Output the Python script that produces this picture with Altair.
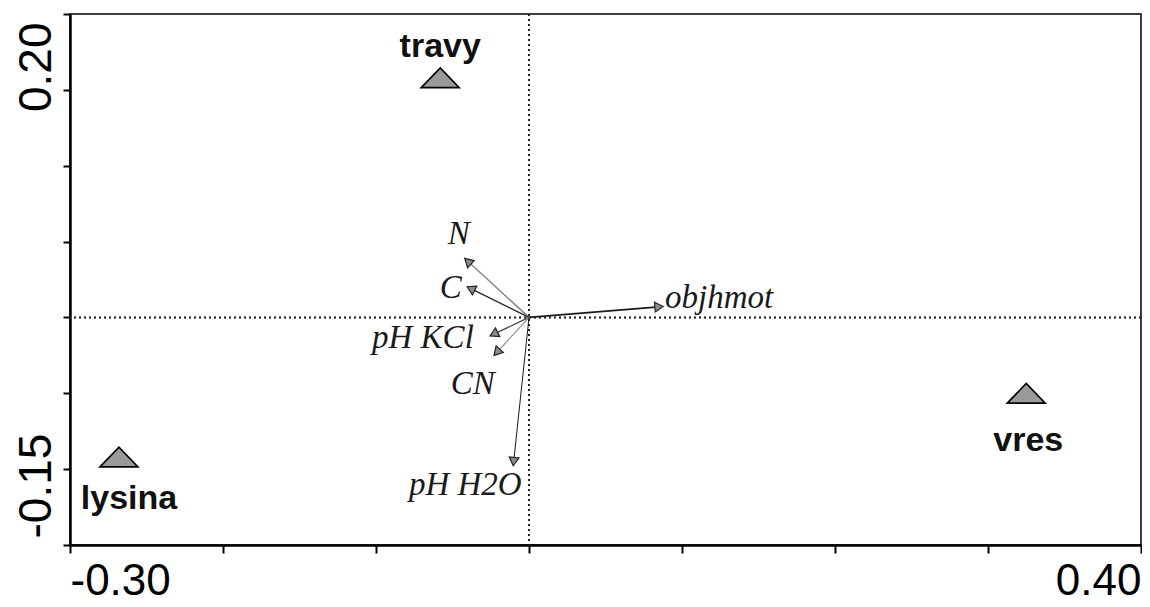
import altair as alt
import pandas as pd

# ---- data (CCA-style biplot) ----
sample_names = ["travy", "lysina", "vres"]
sample_x = [-0.058, -0.268, 0.325]
sample_y = [0.158, -0.092, -0.050]

env_names = ["objhmot", "N", "C", "pH KCl", "CN", "pH H2O"]
env_x = [0.085, -0.040, -0.038, -0.023, -0.021, -0.010]
env_y = [0.007, 0.037, 0.019, -0.011, -0.023, -0.095]

x_ticks = [-0.3, -0.2, -0.1, 0.0, 0.1, 0.2, 0.3, 0.4]
y_ticks = [-0.15, -0.10, -0.05, 0.0, 0.05, 0.10, 0.15, 0.20]
x_tick_labels = ["-0.30", "0.40"]
y_tick_labels = ["0.20", "-0.15"]

samples = pd.DataFrame({"name": sample_names, "x": sample_x, "y": sample_y})
env = pd.DataFrame({"name": env_names, "x": env_x, "y": env_y})
env["x0"] = 0.0
env["y0"] = 0.0

xscale = alt.Scale(domain=[x_ticks[0], x_ticks[-1]], nice=False, zero=False)
yscale = alt.Scale(domain=[y_ticks[0], y_ticks[-1]], nice=False, zero=False)

x_label_expr = (
    f"abs(datum.value - ({x_ticks[0]})) < 1e-6 ? '{x_tick_labels[0]}' : "
    f"abs(datum.value - ({x_ticks[-1]})) < 1e-6 ? '{x_tick_labels[1]}' : ''"
)
y_label_expr = (
    f"abs(datum.value - ({y_ticks[-1]})) < 1e-6 ? '{y_tick_labels[0]}' : "
    f"abs(datum.value - ({y_ticks[0]})) < 1e-6 ? '{y_tick_labels[1]}' : ''"
)

xaxis = alt.Axis(
    values=x_ticks, labelExpr=x_label_expr, labelFlush=True, labelOverlap=False,
    labelFont="Liberation Sans", labelFontSize=44, labelColor="black",
    labelPadding=6, tickColor="black", tickWidth=2, tickSize=8,
    domainColor="black", domainWidth=2.5, grid=False, title=None,
)
yaxis = alt.Axis(
    values=y_ticks, labelExpr=y_label_expr, labelOverlap=False,
    labelAngle=270,
    labelAlign={"condition": {"test": "datum.value > 0", "value": "right"}, "value": "left"},
    labelBaseline="alphabetic",
    labelOffset={"condition": {"test": "datum.value > 0", "value": 8}, "value": -7},
    labelFont="Liberation Sans", labelFontSize=46, labelColor="black",
    labelPadding=13, tickColor="black", tickWidth=2, tickSize=7,
    domainColor="black", domainWidth=2.5, grid=False, title=None,
)


def X(field):
    return alt.X(f"{field}:Q", scale=xscale, axis=xaxis)


def Y(field):
    return alt.Y(f"{field}:Q", scale=yscale, axis=yaxis)


# dotted zero lines
zero_v = alt.Chart(samples).mark_rule(
    strokeDash=[2, 3], color="#222", strokeWidth=1.5
).encode(x=alt.X(datum=0.0, type="quantitative", scale=xscale, axis=xaxis))
zero_h = alt.Chart(samples).mark_rule(
    strokeDash=[2, 3], color="#222", strokeWidth=1.5
).encode(y=alt.Y(datum=0.0, type="quantitative", scale=yscale, axis=yaxis))

# arrows
arrow_lines = alt.Chart(env).mark_rule().encode(
    x=X("x0"), y=Y("y0"), x2=alt.X2("x"), y2=alt.Y2("y"),
    color=alt.Color(
        "name:N", legend=None,
        scale=alt.Scale(domain=env_names,
                        range=["#1a1a1a", "#8a8a8a", "#2a2a2a", "#444444", "#8a8a8a", "#1a1a1a"]),
    ),
    strokeWidth=alt.StrokeWidth(
        "name:N", legend=None,
        scale=alt.Scale(domain=env_names, range=[1.7, 1.0, 1.4, 1.2, 1.0, 1.7]),
    ),
)

arrow_heads = alt.Chart(env).transform_calculate(
    ang="(atan2(datum.x, datum.y) * 180 / PI + 360) % 360"
).mark_point(
    shape="triangle-up", filled=True, size=95, fill="#8c8c8c",
    stroke="#222", strokeWidth=1.2, opacity=1,
).encode(x=X("x"), y=Y("y"), angle=alt.Angle("ang:Q", scale=None))

# env variable labels (italic serif)
env_label_place = {
    "objhmot": ("left", 6, 1),
    "N": ("center", -9, -17),
    "C": ("right", -9, 9),
    "pH KCl": ("right", -20, 14),
    "CN": ("right", -2, 42),
    "pH H2O": ("right", 8, 33),
}
env_labels = []
for nm, (al, ddx, ddy) in env_label_place.items():
    env_labels.append(
        alt.Chart(env).transform_filter(alt.datum.name == nm).mark_text(
            align=al, baseline="alphabetic", dx=ddx, dy=ddy,
            font="Liberation Serif", fontStyle="italic", fontSize=33, color="#1a1a1a",
        ).encode(x=X("x"), y=Y("y"), text="name:N")
    )

# sample triangles
tri = alt.Chart(samples).mark_point(
    shape="M-1,0.52L0,-0.52L1,0.52Z", size=1444, filled=True,
    fill="#9a9a9a", stroke="black", strokeWidth=1.6, opacity=1,
).encode(x=X("x"), y=Y("y"))

sample_label_place = {"travy": (0, -21), "lysina": (10, 52), "vres": (2, 58)}
sample_labels = []
for nm, (ddx, ddy) in sample_label_place.items():
    sample_labels.append(
        alt.Chart(samples).transform_filter(alt.datum.name == nm).mark_text(
            align="center", baseline="alphabetic", dx=ddx, dy=ddy,
            font="Liberation Sans", fontWeight="bold", fontSize=34, color="#111",
        ).encode(x=X("x"), y=Y("y"), text="name:N")
    )

chart = alt.layer(
    zero_v, zero_h, arrow_lines, arrow_heads, *env_labels, tri, *sample_labels
).properties(
    width=1071, height=531,
    autosize=alt.AutoSizeParams(type="none"),
    padding={"left": 62, "top": 6, "right": 1, "bottom": 60},
    background="white",
).configure_view(stroke="black", strokeWidth=1.5)

chart.save("out.html", embed_options={"renderer": "svg", "actions": False})
